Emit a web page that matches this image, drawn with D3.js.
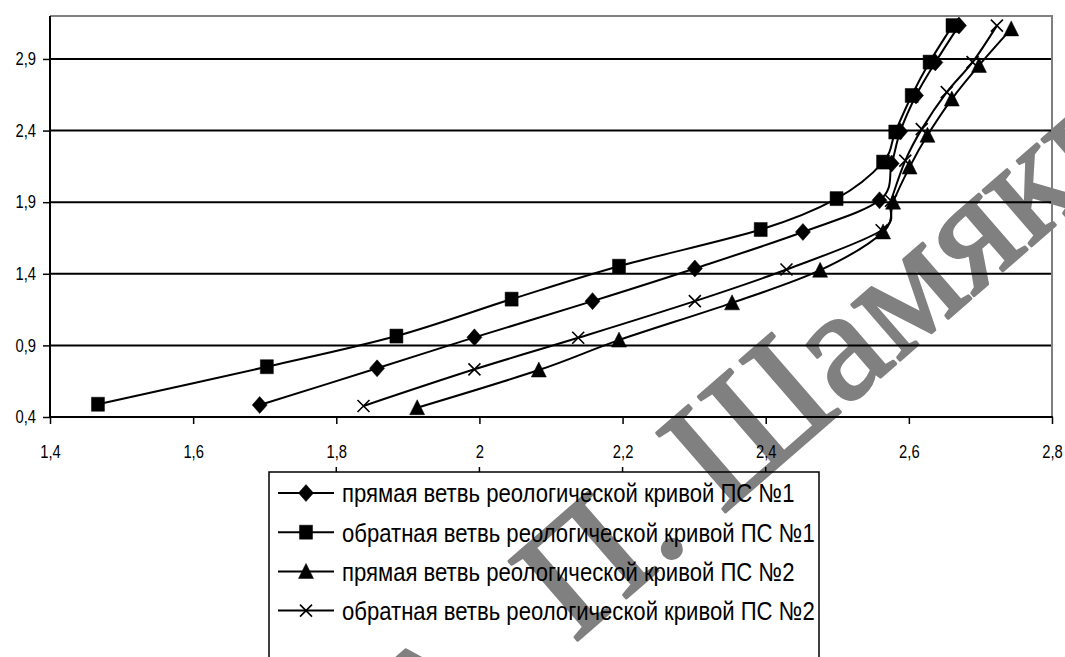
<!DOCTYPE html>
<html>
<head>
<meta charset="utf-8">
<script src="https://cdn.jsdelivr.net/npm/d3@7"></script>
<style>
  body { margin: 0; background: #fff; }
  svg { display: block; }
</style>
</head>
<body>
<svg id="chart" width="1065" height="657"></svg>
<script>
// Series names (legend order)
const seriesNames = [
  "прямая ветвь реологической кривой ПС №1",
  "обратная ветвь реологической кривой ПС №1",
  "прямая ветвь реологической кривой ПС №2",
  "обратная ветвь реологической кривой ПС №2"
];

// Direct branch, sample 1
const xDirect1 = [1.693, 1.857, 1.993, 2.158, 2.301, 2.452, 2.559, 2.576, 2.588, 2.610, 2.637, 2.670];
const yDirect1 = [0.484, 0.740, 0.956, 1.209, 1.437, 1.692, 1.913, 2.170, 2.394, 2.645, 2.876, 3.133];

// Reverse branch, sample 1
const xReverse1 = [1.467, 1.703, 1.884, 2.045, 2.195, 2.393, 2.499, 2.564, 2.581, 2.604, 2.629, 2.661];
const yReverse1 = [0.489, 0.751, 0.965, 1.223, 1.453, 1.709, 1.925, 2.180, 2.390, 2.645, 2.878, 3.133];

// Direct branch, sample 2
const xDirect2 = [1.913, 2.083, 2.195, 2.353, 2.476, 2.564, 2.578, 2.601, 2.626, 2.660, 2.698, 2.743];
const yDirect2 = [0.465, 0.728, 0.937, 1.197, 1.425, 1.692, 1.900, 2.145, 2.367, 2.620, 2.855, 3.110];

// Reverse branch, sample 2
const xReverse2 = [1.838, 1.993, 2.138, 2.301, 2.429, 2.562, 2.575, 2.595, 2.618, 2.653, 2.689, 2.723];
const yReverse2 = [0.477, 0.733, 0.953, 1.209, 1.430, 1.704, 1.910, 2.190, 2.410, 2.668, 2.878, 3.133];

const markerTypes = ["diamond", "square", "triangle", "cross"];

// Axis ticks
const xTicks = [1.4, 1.6, 1.8, 2.0, 2.2, 2.4, 2.6, 2.8];
const yTicks = [0.4, 0.9, 1.4, 1.9, 2.4, 2.9];
const xDomain = [1.4, 2.8];
const yDomain = [0.4, 3.2];

const watermarkText = "А. П. Шамякин";

const xsAll = [xDirect1, xReverse1, xDirect2, xReverse2];
const ysAll = [yDirect1, yReverse1, yDirect2, yReverse2];
const series = seriesNames.map((name, i) => ({
  name,
  marker: markerTypes[i],
  points: xsAll[i].map((x, j) => ({ x, y: ysAll[i][j] }))
}));

const svg = d3.select("#chart");
const W = 1065, H = 657;
const plot = { left: 50, right: 1052, top: 16, bottom: 417 };

const x = d3.scaleLinear().domain(xDomain).range([plot.left, plot.right]);
const y = d3.scaleLinear().domain(yDomain).range([plot.bottom, plot.top]);

const fmt = d => String(+d.toFixed(1)).replace(".", ",");
const labelFont = "'Liberation Sans Narrow', 'Arial Narrow', 'Liberation Sans', Arial, sans-serif";

// Squeeze a text element horizontally to imitate a condensed face
const condense = (sel, factor) => sel.each(function () {
  const len = this.getComputedTextLength();
  d3.select(this).attr("textLength", len * factor).attr("lengthAdjust", "spacingAndGlyphs");
});

svg.append("rect").attr("width", W).attr("height", H).attr("fill", "#fff");

// Watermark lettering behind the chart
svg.append("text")
  .attr("transform", "translate(822,428) rotate(-41)")
  .attr("text-anchor", "middle")
  .attr("font-family", "'Liberation Serif', 'Times New Roman', serif")
  .attr("font-size", 160)
  .attr("fill", "#808080")
  .attr("stroke", "#808080")
  .attr("stroke-width", 3)
  .attr("stroke-linejoin", "round")
  .text(watermarkText);

// Horizontal gridlines
svg.append("g")
  .selectAll("line")
  .data(yTicks.filter(t => t > yDomain[0]))
  .join("line")
  .attr("x1", plot.left).attr("x2", plot.right)
  .attr("y1", d => y(d)).attr("y2", d => y(d))
  .attr("stroke", "#000").attr("stroke-width", 2);

// Top and right border of the plot area
svg.append("path")
  .attr("d", `M${plot.left},${plot.top}H${plot.right}V${plot.bottom}`)
  .attr("fill", "none").attr("stroke", "#808080").attr("stroke-width", 2);

// Y axis
const yAxis = d3.axisLeft(y).tickValues(yTicks).tickSize(7).tickPadding(7).tickFormat(fmt);
const gy = svg.append("g").attr("transform", `translate(${plot.left},0)`).call(yAxis);
gy.select(".domain").remove();
gy.append("line").attr("x1", 0).attr("x2", 0).attr("y1", plot.top).attr("y2", plot.bottom + 1)
  .attr("stroke", "#000").attr("stroke-width", 2);

// X axis
const xAxis = d3.axisBottom(x).tickValues(xTicks).tickSize(7).tickPadding(21).tickFormat(fmt);
const gx = svg.append("g").attr("transform", `translate(0,${plot.bottom})`).call(xAxis);
gx.select(".domain").remove();
gx.append("line").attr("x1", plot.left - 1).attr("x2", plot.right + 1).attr("y1", 0).attr("y2", 0)
  .attr("stroke", "#000").attr("stroke-width", 2);

svg.selectAll(".tick line").attr("stroke", "#000").attr("stroke-width", 1.5);
svg.selectAll(".tick text")
  .attr("font-family", labelFont).attr("font-size", 18).attr("fill", "#000")
  .call(condense, 0.82);

// Curves
const line = d3.line().x(d => x(d.x)).y(d => y(d.y)).curve(d3.curveCardinal.tension(0));

const markerPath = (type) => {
  switch (type) {
    case "diamond": return "M0,-8.5L7.5,0L0,8.5L-7.5,0Z";
    case "square": return "M-6.5,-7H6.5V7H-6.5Z";
    case "triangle": return "M0,-8L7.5,7L-7.5,7Z";
    case "cross": return "M-6,-6L6,6M6,-6L-6,6";
  }
};

const drawMarker = (sel, type) => {
  sel.append("path")
    .attr("d", markerPath(type))
    .attr("fill", type === "cross" ? "none" : "#000")
    .attr("stroke", "#000")
    .attr("stroke-width", type === "cross" ? 1.6 : 0.5);
};

const gSeries = svg.append("g");
series.forEach(s => {
  gSeries.append("path")
    .attr("d", line(s.points))
    .attr("fill", "none").attr("stroke", "#000").attr("stroke-width", 2);
});
series.forEach(s => {
  s.points.forEach(p => {
    const g = gSeries.append("g").attr("transform", `translate(${x(p.x)},${y(p.y)})`);
    drawMarker(g, s.marker);
  });
});

// Legend
const legend = { left: 269, right: 819, top: 472, row0: 493, rowStep: 39.2 };

// Small tick marks along the legend's top edge
svg.append("g")
  .selectAll("line")
  .data(xTicks.filter(t => x(t) > legend.left && x(t) < legend.right))
  .join("line")
  .attr("x1", d => x(d)).attr("x2", d => x(d))
  .attr("y1", legend.top - 5).attr("y2", legend.top)
  .attr("stroke", "#000").attr("stroke-width", 1.5);

svg.append("rect")
  .attr("x", legend.left).attr("y", legend.top)
  .attr("width", legend.right - legend.left).attr("height", H - legend.top + 20)
  .attr("fill", "none").attr("stroke", "#000").attr("stroke-width", 1.5);

series.forEach((s, i) => {
  const cy = legend.row0 + i * legend.rowStep;
  const g = svg.append("g");
  g.append("line").attr("x1", 278).attr("x2", 334).attr("y1", cy).attr("y2", cy)
    .attr("stroke", "#000").attr("stroke-width", 2);
  drawMarker(g.append("g").attr("transform", `translate(306,${cy})`), s.marker);
  g.append("text")
    .attr("x", 342).attr("y", cy)
    .attr("dy", "0.36em")
    .attr("font-family", labelFont).attr("font-size", 26).attr("fill", "#000")
    .text(s.name)
    .call(condense, 0.85);
});
</script>
</body>
</html>
